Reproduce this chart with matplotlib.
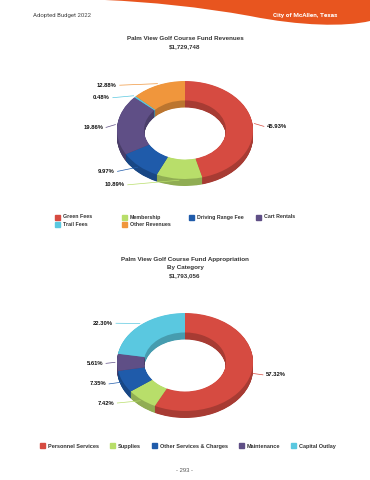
import numpy as np
import matplotlib
matplotlib.use('Agg')
import matplotlib.pyplot as plt
from matplotlib.patches import Rectangle, Patch, PathPatch
from matplotlib.path import Path
from matplotlib.colors import to_rgb

rev_labels = ['Green Fees', 'Membership', 'Driving Range Fee', 'Cart Rentals', 'Trail Fees', 'Other Revenues']
rev_pct = [45.93, 10.89, 9.97, 19.86, 0.48, 12.88]
rev_colors = ['#d64b41', '#b8de6a', '#1f5baa', '#5f4f86', '#5ac8e0', '#f0963c']

app_labels = ['Personnel Services', 'Supplies', 'Other Services & Charges', 'Maintenance', 'Capital Outlay']
app_pct = [57.32, 7.42, 7.35, 5.61, 22.30]
app_colors = ['#d64b41', '#b8de6a', '#1f5baa', '#5f4f86', '#5ac8e0']

W, H = 370, 480
K = 0.72  # vertical squash of the donuts
FONT = 'Liberation Sans'

fig = plt.figure(figsize=(W / 100, H / 100), dpi=100)
ax = fig.add_axes([0, 0, 1, 1])
ax.set_xlim(0, W)
ax.set_ylim(H, 0)
ax.set_axis_off()

dax = fig.add_axes([0, 0, 1, 1])
dax.patch.set_alpha(0)


def Y(py):
    return (H - py) / K


def dark(c, f=0.78):
    return tuple(v * f for v in to_rgb(c))


# header swoosh
verts = [(105, 0), (370, 0), (370, 21), (345, 27), (300, 26), (250, 16),
         (200, 7), (150, 2), (105, 0)]
codes = [Path.MOVETO, Path.LINETO, Path.LINETO, Path.CURVE4, Path.CURVE4, Path.CURVE4,
         Path.CURVE4, Path.CURVE4, Path.CURVE4]
ax.add_patch(PathPatch(Path(verts, codes), facecolor='#e8551f', edgecolor='none'))
ax.text(33, 15, 'Adopted Budget 2022', fontsize=4.3, color='#444444', family='Roboto', va='center')
ax.text(337, 15, 'City of McAllen, Texas', fontsize=4.6, color='white', family='Roboto',
        weight='bold', va='center', ha='right')

tkw = dict(fontsize=4.5, color='#333333', family=FONT, weight='bold', ha='center', va='center')
ax.text(185, 38, 'Palm View Golf Course Fund Revenues', **tkw)
ax.text(185, 46.5, '$1,729,748', **tkw)
ax.text(185, 260, 'Palm View Golf Course Fund Appropriation', **tkw)
ax.text(185, 268, 'By Category', **tkw)
ax.text(185, 276, '$1,793,056', **tkw)


def donut(vals, colors, cx, cy, yadd):
    R, Wd, depth = 68, 27, 7
    for off in np.linspace(depth, 0.5, 18):
        dax.pie(vals, colors=[dark(c) for c in colors], startangle=90, counterclock=False,
                radius=R, center=(cx, Y(cy) - off / K), wedgeprops=dict(width=Wd, linewidth=0))
    wedges, _ = dax.pie(vals, colors=colors, startangle=90, counterclock=False, radius=R,
                        center=(cx, Y(cy)), wedgeprops=dict(width=Wd, linewidth=0))
    for w, v, c in zip(wedges, vals, colors):
        a = np.deg2rad((w.theta1 + w.theta2) / 2)
        ly = cy - 52 * np.sin(a) + yadd
        side = 1 if np.cos(a) >= 0 else -1
        lx = cx + side * np.sqrt(max(80 ** 2 - (ly - cy) ** 2, 0))
        ax0 = cx + (R + 2) * np.cos(a)
        ay0 = Y(cy) + (R + 2) * np.sin(a)
        dax.plot([ax0, lx - side * 1], [ay0, Y(ly)], color=c, lw=0.5)
        dax.text(lx + side * 2, Y(ly), f'{v:.2f}%', fontsize=4.2, family=FONT, weight='bold',
                 color='#111111', ha='left' if side > 0 else 'right', va='center')


donut(rev_pct, rev_colors, 185, 130, 3)
donut(app_pct, app_colors, 185, 362, 1)

dax.set_xlim(0, W)
dax.set_ylim(0, H / K)
dax.set_aspect('auto')
dax.set_axis_off()

# legend 1 (fixed column width, row-major)
for i, (lab, c) in enumerate(zip(rev_labels, rev_colors)):
    x = 57 + (i % 4) * 67
    y = 217 + (i // 4) * 7
    ax.add_patch(Rectangle((x - 2.5, y - 2.5), 5, 5, color=c))
    ax.text(x + 6, y, lab, fontsize=3.8, family=FONT, weight='bold', color='#333333', va='center')

# legend 2
handles = [Patch(color=c, label=l) for l, c in zip(app_labels, app_colors)]
ax.legend(handles=handles, loc='center', bbox_to_anchor=(188 / W, 1 - 446 / H), ncol=5,
          frameon=False, prop={'family': FONT, 'weight': 'bold', 'size': 4.0},
          labelcolor='#333333', handlelength=0.9, handleheight=0.9, handletextpad=0.5,
          columnspacing=2.0, borderaxespad=0)

ax.text(185, 470, '- 293 -', fontsize=4.2, color='#555555', family=FONT, ha='center', va='center')

fig.savefig('out.png', dpi=100)
